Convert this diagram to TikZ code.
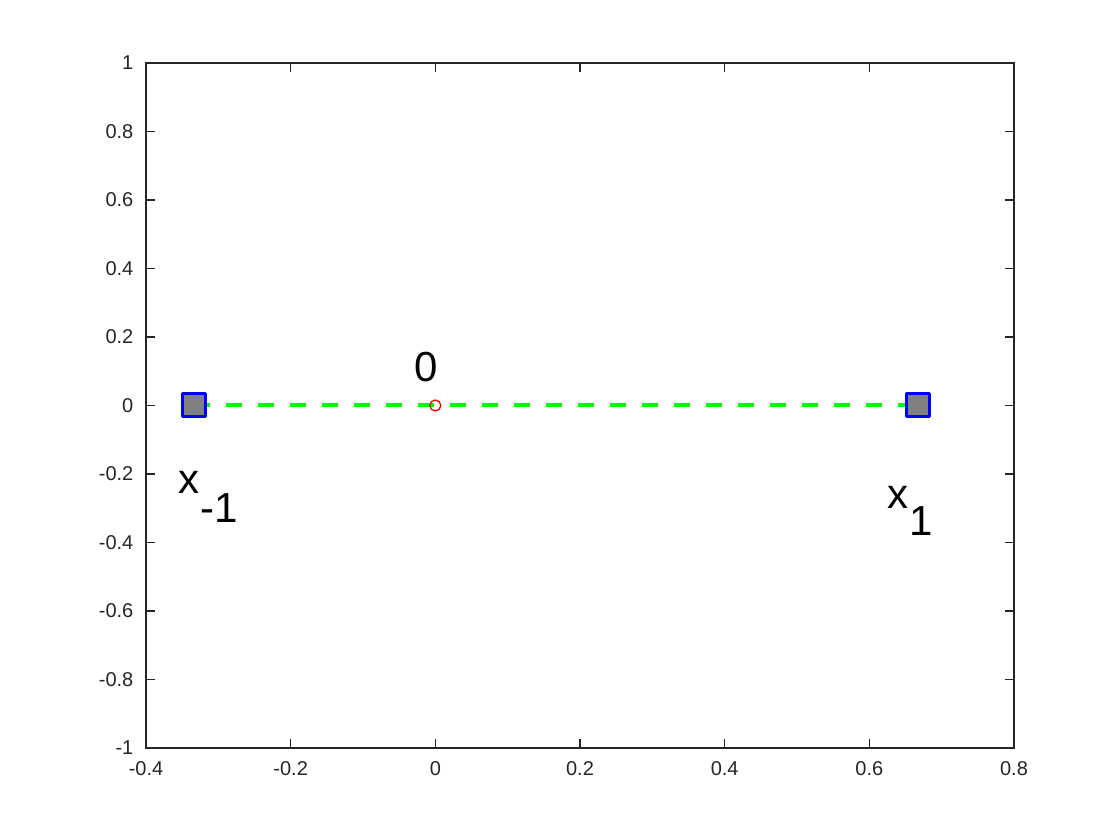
\documentclass[tikz,border=0pt]{standalone}
\usepackage{fontspec}
\setmainfont{Liberation Sans}
\begin{document}
\begin{tikzpicture}[x=723.33pt,y=342.5pt,
  axisline/.style={line width=1.1pt,black!85},
  ticklab/.style={font=\fontsize{20}{22}\selectfont,text=black!85,inner sep=0pt},
  biglab/.style={font=\fontsize{42}{46}\selectfont,inner sep=0pt},
  sqmark/.style={draw=blue,fill=black!50,line width=3pt,minimum size=23pt,inner sep=0pt,line join=round},
  circmark/.style={draw=red,circle,line width=1.3pt,minimum size=11pt,inner sep=0pt},
  greenline/.style={draw={rgb,1:red,0;green,1;blue,0},line width=4pt,dash pattern=on 16pt off 16pt}]
\useasboundingbox[fill=white] (-0.60185,-1.26861) rectangle (0.94655,1.18394);
% axes box
\draw[axisline] (-0.4,-1) rectangle (0.8,1);
\foreach \v/\t [count=\i] in {-0.4/-0.4,-0.2/-0.2,0/0,0.2/0.2,0.4/0.4,0.6/0.6,0.8/0.8}{
  \draw[axisline] (\v,-1) -- ++(0,9pt);
  \draw[axisline] (\v,1) -- ++(0,-9pt);
  \node[ticklab,anchor=base] (xl\i) at ([yshift=-28pt]\v,-1) {\t};
}
\foreach \v/\t [count=\i] in {-1/-1,-0.8/-0.8,-0.6/-0.6,-0.4/-0.4,-0.2/-0.2,0/0,0.2/0.2,0.4/0.4,0.6/0.6,0.8/0.8,1/1}{
  \draw[axisline] (-0.4,\v) -- ++(9pt,0);
  \draw[axisline] (0.8,\v) -- ++(-9pt,0);
  \node[ticklab,anchor=base east] (yl\i) at ([xshift=-12.5pt,yshift=-7pt]-0.4,\v) {\t};
}
% data
\coordinate (pa) at (-0.33333,0);
\coordinate (pb) at (0.66667,0);
\draw[greenline] (pa) -- (pb);
\node[circmark] (o) at (0,0) {};
\node[sqmark] (sa) at (pa) {};
\node[sqmark] (sb) at (pb) {};
% labels
\node[biglab,anchor=base] (lab0) at (-0.0129,0.0686) {0};
\node[biglab,anchor=base west] (labxm) at (-0.3555,-0.2555) {x\kern1pt\raisebox{-29pt}{-1}};
\node[biglab,anchor=base west] (labxp) at (0.6253,-0.2993) {x\kern0.5pt\raisebox{-27pt}{1}};
\end{tikzpicture}
\end{document}
